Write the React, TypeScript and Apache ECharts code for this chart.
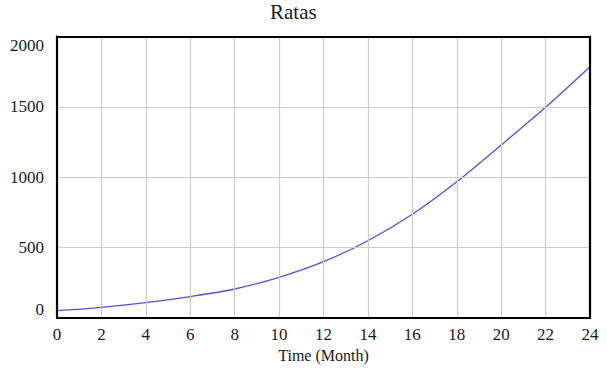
import React, { useEffect, useRef } from "react";
import * as echarts from "echarts";

const months = [0, 2, 4, 6, 8, 10, 12, 14, 16, 18, 20, 22, 24];
const ratas = [52, 76, 109, 152, 206, 289, 400, 549, 737, 968, 1229, 1497, 1785];
const chartTitle = "Ratas";
const xAxisName = "Time (Month)";

const FONT = "'Liberation Serif', 'Times New Roman', serif";

export default function App() {
  const ref = useRef<HTMLDivElement>(null);
  useEffect(() => {
    document.body.style.margin = "0";
    const chart = echarts.init(ref.current!, null, { renderer: "svg" });
    const frameLine = { show: true, onZero: false, lineStyle: { color: "#000", width: 2.2 } };
    chart.setOption({
      animation: false,
      backgroundColor: "#ffffff",
      title: {
        text: chartTitle,
        left: 270,
        top: 1,
        padding: 0,
        textStyle: { fontFamily: FONT, fontSize: 21, fontWeight: "normal", color: "#1a1a1a" },
      },
      grid: {
        left: 57,
        right: 17,
        top: 36.5,
        bottom: 52,
      },
      xAxis: [
        {
          type: "value",
          min: 0,
          max: 24,
          interval: 2,
          name: xAxisName,
          nameLocation: "middle",
          nameGap: 28,
          nameTextStyle: { fontFamily: FONT, fontSize: 16, color: "#1a1a1a" },
          axisLine: frameLine,
          axisTick: { show: false },
          axisLabel: { fontFamily: FONT, fontSize: 17, color: "#1a1a1a", margin: 8 },
          splitLine: { show: true, lineStyle: { color: "#cccccc", width: 1.2 } },
          z: 5,
        },
        {
          type: "value",
          position: "top",
          min: 0,
          max: 24,
          interval: 2,
          axisLine: frameLine,
          axisTick: { show: false },
          axisLabel: { show: false },
          splitLine: { show: false },
          z: 5,
        },
      ],
      yAxis: [
        {
          type: "value",
          min: 0,
          max: 2000,
          interval: 500,
          axisLine: frameLine,
          axisTick: { show: false },
          axisLabel: {
            fontFamily: FONT,
            fontSize: 17,
            color: "#1a1a1a",
            margin: 13,
            formatter: (v: number) => String(v),
            verticalAlignMaxLabel: "top",
            verticalAlignMinLabel: "bottom",
          },
          splitLine: { show: true, lineStyle: { color: "#cccccc", width: 1.2 } },
          z: 5,
        },
        {
          type: "value",
          position: "right",
          min: 0,
          max: 2000,
          interval: 500,
          axisLine: frameLine,
          axisTick: { show: false },
          axisLabel: { show: false },
          splitLine: { show: false },
          z: 5,
        },
      ],
      series: [
        {
          type: "line",
          data: months.map((m, i) => [m, ratas[i]]),
          smooth: 0.3,
          showSymbol: false,
          lineStyle: { color: "#5050e6", width: 1.3 },
          z: 3,
        },
      ],
    });
    return () => chart.dispose();
  }, []);
  return <div ref={ref} style={{ width: 607, height: 370 }} />;
}
